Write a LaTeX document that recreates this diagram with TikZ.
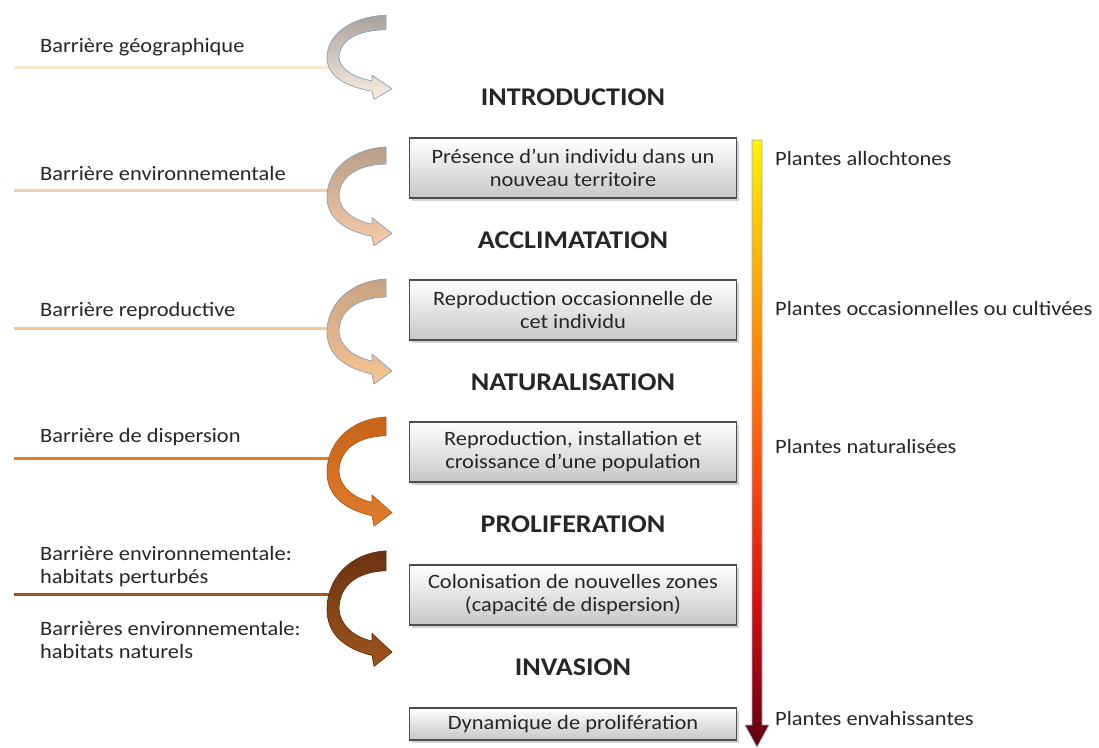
\documentclass[tikz,border=0pt]{standalone}
\usepackage{fontspec}
\setmainfont{Carlito}[FakeStretch=1.1]
\usetikzlibrary{shadows}
\definecolor{txt}{HTML}{262626}
\definecolor{yel}{HTML}{FFF200}
\definecolor{orng}{HTML}{FFA000}
\definecolor{orr}{HTML}{FF5A10}
\definecolor{rd}{HTML}{D81010}
\definecolor{dr}{HTML}{5E0010}
\definecolor{barline}{HTML}{9AAAC8}
\definecolor{arrline}{HTML}{8C9CB4}
\definecolor{lineA}{HTML}{F8E6D0}
\definecolor{lineB}{HTML}{F4D0B0}
\definecolor{lineC}{HTML}{F4C890}
\definecolor{lineD}{HTML}{E27A2E}
\definecolor{lineE}{HTML}{A0561E}
\definecolor{aAtop}{HTML}{A8A29C}
\definecolor{aAbot}{HTML}{FBEFE2}
\definecolor{aBtop}{HTML}{B89E8A}
\definecolor{aBbot}{HTML}{F7CBA6}
\definecolor{aCtop}{HTML}{C8A283}
\definecolor{aCbot}{HTML}{F8C492}
\definecolor{aDtop}{HTML}{C66418}
\definecolor{aDbot}{HTML}{E07C2C}
\definecolor{aDline}{HTML}{B05A1C}
\definecolor{aEtop}{HTML}{6A3310}
\definecolor{aEbot}{HTML}{A0541E}
\definecolor{aEline}{HTML}{5E2E0E}
\pgfdeclareverticalshading{heatbar}{100bp}{color(0bp)=(dr); color(25bp)=(dr); color(37bp)=(rd); color(49.5bp)=(orr); color(62bp)=(orng); color(75bp)=(yel); color(100bp)=(yel)}
\newcommand{\curvarrow}[6]{%
  \begin{scope}[shift={(#1,#2)},yscale=#3]
    \path[top color=#4,bottom color=#5,draw=#6,line width=0.7pt,line join=round]
      (59,-51) .. controls (22,-49) and (0,-25) .. (0,2)
      .. controls (0,25) and (18,38) .. (45,44)
      -- (47,54) -- (65,41) -- (45,24) -- (45,31)
      .. controls (26,27) and (13,16) .. (12,2)
      .. controls (12,-18) and (28,-32) .. (59,-33) -- cycle;
  \end{scope}}
\begin{document}
\begin{tikzpicture}[x=1pt,y=-1pt,
  lefttext/.style={anchor=west,align=left,text=txt,font=\fontsize{20.4}{23}\selectfont,inner sep=0pt},
  righttext/.style={anchor=west,text=txt,font=\fontsize{20.4}{23}\selectfont,inner sep=0pt},
  heading/.style={text=txt,font=\fontsize{25.5}{30}\selectfont\bfseries,inner sep=0pt},
  stepbox/.style={draw=black!70,line width=1.1pt,top color=white,bottom color=black!22,
     minimum width=327pt,align=center,text=txt,font=\fontsize{20.4}{23}\selectfont,
     drop shadow={shadow xshift=2pt,shadow yshift=-2.5pt,opacity=0.35}},
  barrier/.style={line width=3pt}]
\useasboundingbox (0,0) rectangle (1099,747);

% barrier lines
\coordinate (l1s) at (14,67);  \coordinate (l1e) at (330,67);
\coordinate (l2s) at (14,190); \coordinate (l2e) at (330,190);
\coordinate (l3s) at (14,328); \coordinate (l3e) at (330,328);
\coordinate (l4s) at (14,458); \coordinate (l4e) at (330,458);
\coordinate (l5s) at (14,594); \coordinate (l5e) at (330,594);
\draw[barrier,lineA] (l1s) -- (l1e);
\draw[barrier,lineB] (l2s) -- (l2e);
\draw[barrier,lineC] (l3s) -- (l3e);
\draw[barrier,lineD] (l4s) -- (l4e);
\draw[barrier,lineE] (l5s) -- (l5e);

% curved arrows
\curvarrow{327}{56}{0.8}{aAtop}{aAbot}{arrline}
\curvarrow{327}{195}{0.94}{aBtop}{aBbot}{arrline}
\curvarrow{327}{330}{1.0}{aCtop}{aCbot}{arrline}
\curvarrow{327}{470}{1.04}{aDtop}{aDbot}{aDline}
\curvarrow{327}{607}{1.1}{aEtop}{aEbot}{aEline}

% left texts
\node[lefttext] (t1) at (40,47) {Barrière géographique};
\node[lefttext] (t2) at (40,173) {Barrière environnementale};
\node[lefttext] (t3) at (40,311) {Barrière reproductive};
\node[lefttext] (t4) at (40,437) {Barrière de dispersion};
\node[lefttext] (t5) at (40,567) {Barrière environnementale:\\habitats perturbés};
\node[lefttext] (t6) at (40,640) {Barrières environnementale:\\habitats naturels};

% headings
\node[heading] (h1) at (573,97) {INTRODUCTION};
\node[heading] (h2) at (573,240) {ACCLIMATATION};
\node[heading] (h3) at (573,382) {NATURALISATION};
\node[heading] (h4) at (573,524) {PROLIFERATION};
\node[heading] (h5) at (573,667) {INVASION};

% boxes
\node[stepbox,minimum height=60pt] (b1) at (573,168) {Présence d’un individu dans un\\nouveau territoire};
\node[stepbox,minimum height=60pt] (b2) at (573,310) {Reproduction occasionnelle de\\cet individu};
\node[stepbox,minimum height=60pt] (b3) at (573,452) {Reproduction, installation et\\croissance d’une population};
\node[stepbox,minimum height=60pt] (b4) at (573,595) {Colonisation de nouvelles zones\\(capacité de dispersion)};
\node[stepbox,minimum height=32pt] (b5) at (573,724) {Dynamique de prolifération};

% gradient bar arrow
\shade[shading=heatbar,draw=barline,line width=0.6pt]
  (752,140) -- (762,140) -- (762,725) -- (769,725) -- (757,747) -- (745,725) -- (752,725) -- cycle;

% right labels
\node[righttext] (r1) at (775,158) {Plantes allochtones};
\node[righttext] (r2) at (775,308) {Plantes occasionnelles ou cultivées};
\node[righttext] (r3) at (775,446) {Plantes naturalisées};
\node[righttext] (r4) at (775,718) {Plantes envahissantes};
\end{tikzpicture}
\end{document}
